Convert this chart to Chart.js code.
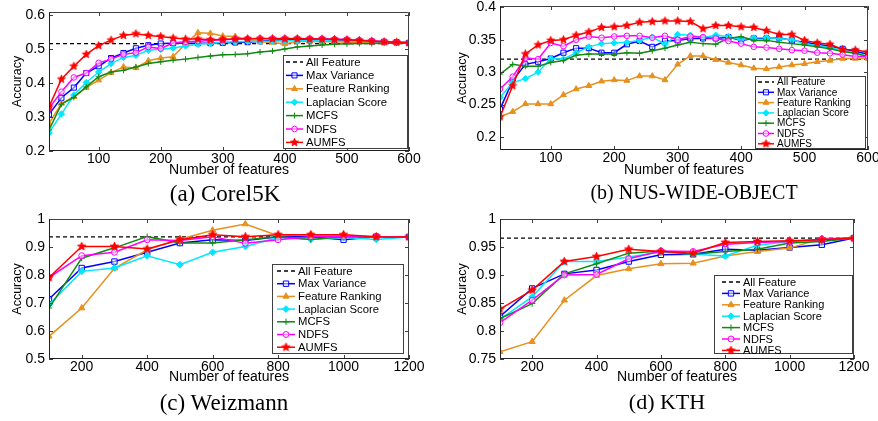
<!DOCTYPE html>
<html>
<head>
<meta charset="utf-8">
<script src="https://cdn.jsdelivr.net/npm/chart.js@4.4.1/dist/chart.umd.min.js"></script>
<style>
  html, body { margin: 0; padding: 0; background: #fff; }
  #page { position: relative; width: 878px; height: 421px; overflow: hidden; background: #fff; }
  #page canvas { position: absolute; }
  .cap { position: absolute; font-family: "Liberation Serif", "Times New Roman", serif; color: #000;
         white-space: nowrap; line-height: 1; transform: translateX(-50%); }
</style>
</head>
<body>
<div id="page">
  <canvas id="corel"></canvas>
  <canvas id="nus"></canvas>
  <canvas id="weiz"></canvas>
  <canvas id="kth"></canvas>
  <div class="cap" style="left:225px; top:182px; font-size:23px;">(a) Corel5K</div>
  <div class="cap" style="left:694px; top:182px; font-size:20px;">(b) NUS-WIDE-OBJECT</div>
  <div class="cap" style="left:224px; top:391px; font-size:23px;">(c) Weizmann</div>
  <div class="cap" style="left:667px; top:391px; font-size:22px;">(d) KTH</div>
</div>
<script>
// ---- data ----
const methods = ['All Feature', 'Max Variance', 'Feature Ranking', 'Laplacian Score', 'MCFS', 'NDFS', 'AUMFS'];

// (a) Corel5K
const corelFeatures = [20, 40, 60, 80, 100, 120, 140, 160, 180, 200, 220, 240, 260, 280, 300,
                       320, 340, 360, 380, 400, 420, 440, 460, 480, 500, 520, 540, 560, 580, 600];
const corelAll = 0.517;
const corelMaxVar = [0.308,0.357,0.387,0.430,0.450,0.474,0.489,0.503,0.512,0.517,0.518,0.518,0.518,0.518,0.519,
                     0.520,0.521,0.524,0.527,0.528,0.528,0.528,0.527,0.527,0.526,0.524,0.523,0.522,0.521,0.519];
const corelRank   = [0.281,0.340,0.360,0.387,0.409,0.431,0.448,0.445,0.466,0.474,0.478,0.517,0.549,0.547,0.539,
                     0.538,0.529,0.522,0.520,0.516,0.523,0.523,0.522,0.522,0.521,0.521,0.521,0.520,0.520,0.520];
const corelLap    = [0.254,0.309,0.365,0.402,0.433,0.458,0.476,0.482,0.497,0.500,0.504,0.510,0.515,0.518,0.521,
                     0.522,0.523,0.524,0.524,0.525,0.525,0.525,0.525,0.525,0.524,0.524,0.523,0.522,0.521,0.520];
const corelMcfs   = [0.262,0.338,0.358,0.389,0.419,0.433,0.438,0.448,0.458,0.463,0.468,0.471,0.476,0.480,0.484,
                     0.485,0.487,0.492,0.495,0.501,0.507,0.510,0.513,0.515,0.516,0.517,0.517,0.518,0.518,0.519];
const corelNdfs   = [0.325,0.375,0.417,0.430,0.460,0.471,0.485,0.490,0.507,0.502,0.519,0.522,0.524,0.526,0.528,
                     0.530,0.531,0.532,0.532,0.532,0.532,0.531,0.531,0.530,0.529,0.527,0.525,0.523,0.521,0.519];
const corelAumfs  = [0.330,0.412,0.450,0.485,0.511,0.527,0.541,0.546,0.541,0.538,0.533,0.530,0.530,0.528,0.529,
                     0.530,0.531,0.531,0.531,0.531,0.531,0.530,0.530,0.529,0.528,0.526,0.524,0.522,0.521,0.519];
const corelXTicks = [100, 200, 300, 400, 500, 600];
const corelYTicks = [0.2, 0.3, 0.4, 0.5, 0.6];

// (b) NUS-WIDE-OBJECT
const nusFeatures = corelFeatures;
const nusAll = 0.320;
const nusMaxVar = [0.243,0.287,0.312,0.316,0.321,0.330,0.337,0.337,0.330,0.330,0.343,0.348,0.339,0.348,0.349,
                   0.352,0.352,0.352,0.354,0.349,0.352,0.352,0.353,0.349,0.346,0.343,0.340,0.336,0.332,0.328];
const nusRank   = [0.231,0.239,0.251,0.251,0.251,0.265,0.274,0.279,0.286,0.288,0.287,0.294,0.294,0.288,0.312,
                   0.325,0.325,0.319,0.315,0.311,0.306,0.305,0.308,0.311,0.313,0.316,0.318,0.321,0.321,0.321];
const nusLap    = [0.261,0.284,0.290,0.300,0.321,0.320,0.330,0.339,0.344,0.345,0.346,0.349,0.354,0.343,0.358,
                   0.357,0.353,0.357,0.355,0.350,0.353,0.353,0.352,0.350,0.344,0.341,0.338,0.334,0.329,0.324];
const nusMcfs   = [0.297,0.312,0.309,0.309,0.315,0.318,0.326,0.328,0.328,0.328,0.330,0.329,0.333,0.337,0.342,
                   0.346,0.344,0.343,0.352,0.355,0.349,0.349,0.346,0.344,0.342,0.339,0.336,0.332,0.329,0.324];
const nusNdfs   = [0.274,0.293,0.322,0.320,0.345,0.340,0.350,0.355,0.353,0.355,0.356,0.356,0.353,0.356,0.350,
                   0.355,0.354,0.352,0.348,0.344,0.339,0.338,0.336,0.334,0.333,0.330,0.329,0.327,0.324,0.324];
const nusAumfs  = [0.231,0.279,0.328,0.342,0.349,0.350,0.357,0.362,0.369,0.370,0.372,0.377,0.378,0.379,0.379,
                   0.378,0.367,0.372,0.372,0.370,0.369,0.364,0.358,0.358,0.349,0.345,0.343,0.335,0.334,0.331];
const nusXTicks = [100, 200, 300, 400, 500, 600];
const nusYTicks = [0.2, 0.25, 0.3, 0.35, 0.4];

// (c) Weizmann
const weizFeatures = [100, 200, 300, 400, 500, 600, 700, 800, 900, 1000, 1100, 1200];
const weizAll = 0.936;
const weizMaxVar = [0.714,0.825,0.848,0.881,0.914,0.926,0.923,0.937,0.937,0.926,0.937,0.936];
const weizRank   = [0.581,0.682,0.824,0.890,0.928,0.960,0.982,0.940,0.944,0.943,0.936,0.936];
const weizLap    = [0.694,0.813,0.825,0.869,0.837,0.881,0.902,0.934,0.927,0.934,0.927,0.936];
const weizMcfs   = [0.682,0.860,0.897,0.937,0.914,0.914,0.926,0.937,0.927,0.937,0.937,0.936];
const weizNdfs   = [0.791,0.869,0.881,0.926,0.923,0.937,0.913,0.926,0.937,0.937,0.937,0.936];
const weizAumfs  = [0.791,0.902,0.902,0.893,0.926,0.944,0.937,0.944,0.944,0.944,0.937,0.936];
const weizXTicks = [200, 400, 600, 800, 1000, 1200];
const weizYTicks = [0.5, 0.6, 0.7, 0.8, 0.9, 1];

// (d) KTH
const kthFeatures = weizFeatures;
const kthAll = 0.966;
const kthMaxVar = [0.826,0.876,0.902,0.909,0.924,0.936,0.937,0.946,0.944,0.949,0.954,0.966];
const kthRank   = [0.763,0.781,0.855,0.899,0.911,0.920,0.921,0.934,0.942,0.948,0.965,0.966];
const kthLap    = [0.821,0.861,0.924,0.924,0.932,0.941,0.937,0.934,0.953,0.960,0.961,0.966];
const kthMcfs   = [0.822,0.849,0.902,0.920,0.939,0.943,0.937,0.942,0.946,0.957,0.960,0.966];
const kthNdfs   = [0.815,0.855,0.900,0.901,0.929,0.943,0.942,0.955,0.958,0.960,0.964,0.966];
const kthAumfs  = [0.839,0.873,0.924,0.933,0.946,0.942,0.939,0.958,0.960,0.961,0.963,0.966];
const kthXTicks = [200, 400, 600, 800, 1000, 1200];
const kthYTicks = [0.75, 0.8, 0.85, 0.9, 0.95, 1];

// ---- styling ----
const SANS = '"Liberation Sans", Arial, sans-serif';

function starImage(color, r) {
  const c = document.createElement('canvas');
  const s = Math.ceil(r * 2 + 2);
  c.width = s; c.height = s;
  const g = c.getContext('2d');
  g.fillStyle = color; g.strokeStyle = color; g.lineWidth = 0.8;
  g.beginPath();
  for (let i = 0; i < 10; i++) {
    const rr = i % 2 ? r * 0.45 : r;
    const a = -Math.PI / 2 + i * Math.PI / 5;
    g.lineTo(s / 2 + rr * Math.cos(a), s / 2 + rr * Math.sin(a));
  }
  g.closePath(); g.fill(); g.stroke();
  return c;
}

function seriesStyles(m) {
  // m: marker scale
  return [
    { color: '#000000', dash: [4, 3], pointStyle: false, radius: 0, fill: 'transparent' },
    { color: '#0000ff', pointStyle: 'rect', radius: 3.6 * m, fill: 'rgba(255,255,255,0.5)' },
    { color: '#e8901e', pointStyle: 'triangle', radius: 3.4 * m, fill: '#e8901e' },
    { color: '#00e8ff', pointStyle: 'rectRot', radius: 3.2 * m, fill: '#00e8ff' },
    { color: '#118a11', pointStyle: 'cross', radius: 3.0 * m, fill: '#118a11' },
    { color: '#ff00ff', pointStyle: 'circle', radius: 2.8 * m, fill: 'rgba(255,255,255,0.5)' },
    { color: '#ff0000', pointStyle: starImage('#ff0000', 4.2 * m), radius: 4 * m, fill: '#ff0000' }
  ];
}

// draw the MATLAB-like box with inward tick marks
const boxPlugin = {
  id: 'box',
  afterDatasetsDraw(chart) {
    const { ctx, chartArea: a, scales: { x, y } } = chart;
    ctx.save();
    ctx.strokeStyle = '#404040';
    ctx.lineWidth = 1;
    ctx.beginPath();
    ctx.rect(Math.round(a.left) + 0.5, Math.round(a.top) + 0.5, Math.round(a.width) - 1, Math.round(a.height) - 1);
    x.ticks.forEach(t => {
      const px = Math.round(x.getPixelForValue(t.value)) + 0.5;
      ctx.moveTo(px, a.bottom); ctx.lineTo(px, a.bottom - 4);
      ctx.moveTo(px, a.top); ctx.lineTo(px, a.top + 4);
    });
    y.ticks.forEach(t => {
      const py = Math.round(y.getPixelForValue(t.value)) + 0.5;
      ctx.moveTo(a.left, py); ctx.lineTo(a.left + 4, py);
      ctx.moveTo(a.right, py); ctx.lineTo(a.right - 4, py);
    });
    ctx.stroke();
    // left and bottom axes a little darker
    ctx.strokeStyle = '#202020';
    ctx.beginPath();
    ctx.moveTo(Math.round(a.left) + 0.5, a.top);
    ctx.lineTo(Math.round(a.left) + 0.5, Math.round(a.bottom) - 0.5);
    ctx.lineTo(a.right, Math.round(a.bottom) - 0.5);
    ctx.stroke();
    ctx.restore();
  }
};

// legend box drawn inside the plot area
const boxLegend = {
  id: 'boxLegend',
  afterDraw(chart, args, o) {
    const { ctx } = chart;
    ctx.save();
    ctx.fillStyle = '#fff';
    ctx.strokeStyle = '#404040';
    ctx.lineWidth = 1;
    ctx.fillRect(o.left, o.top, o.width, o.height);
    ctx.strokeRect(o.left + 0.5, o.top + 0.5, o.width - 1, o.height - 1);
    ctx.font = o.fontSize + 'px ' + SANS;
    ctx.textBaseline = 'middle';
    ctx.textAlign = 'left';
    chart.data.datasets.forEach((ds, i) => {
      const yy = o.firstRow + i * o.rowH;
      ctx.strokeStyle = ds.borderColor;
      ctx.lineWidth = ds.borderWidth;
      ctx.setLineDash(ds.borderDash || []);
      ctx.beginPath();
      ctx.moveTo(o.lineX, yy); ctx.lineTo(o.lineX + o.lineLen, yy);
      ctx.stroke();
      ctx.setLineDash([]);
      if (ds.pointStyle) {
        ctx.fillStyle = ds.pointBackgroundColor;
        ctx.strokeStyle = ds.borderColor;
        ctx.lineWidth = 1;
        Chart.helpers.drawPoint(ctx, { pointStyle: ds.pointStyle, radius: ds.pointRadius, rotation: 0, borderWidth: 1 },
          o.lineX + o.lineLen / 2, yy);
      }
      ctx.fillStyle = '#000';
      ctx.fillText(ds.label, o.textX, yy + 0.5);
    });
    ctx.restore();
  }
};

// margins of each canvas around its plot area
const ML = 60, MT = 20, MR = 40, MB = 40;

function makePanel(p) {
  const [L, T, R, B] = p.area;
  const ox = L - ML, oy = T - MT;
  const cv = document.getElementById(p.id);
  cv.width = R - L + ML + MR;
  cv.height = B - T + MT + MB;
  cv.style.left = ox + 'px';
  cv.style.top = oy + 'px';

  const st = seriesStyles(p.markerScale);
  const series = [null].concat(p.series);
  const datasets = methods.map((name, i) => {
    const s = st[i];
    const data = i === 0
      ? [{ x: p.xMin, y: p.all }, { x: p.xMax, y: p.all }]
      : p.x.map((xv, k) => ({ x: xv, y: series[i][k] }));
    return {
      label: name,
      data,
      borderColor: s.color,
      borderWidth: i === 0 ? 1.3 : p.lineWidth,
      borderDash: s.dash,
      pointStyle: s.pointStyle,
      pointRadius: s.radius,
      pointBorderWidth: 1,
      pointBackgroundColor: s.fill,
      pointBorderColor: s.color,
      order: methods.length - i,
      tension: 0
    };
  });

  const lg = p.legend;
  const yLH = p.yTitleSize * 1.2, xLH = p.xTitleSize * 1.2;

  new Chart(cv, {
    type: 'line',
    data: { datasets },
    options: {
      responsive: false,
      animation: false,
      events: [],
      layout: { padding: { left: 0, top: MT, right: MR, bottom: 0 } },
      plugins: {
        legend: { display: false },
        tooltip: { enabled: false },
        boxLegend: {
          left: lg.box[0] - ox, top: lg.box[1] - oy,
          width: lg.box[2] - lg.box[0], height: lg.box[3] - lg.box[1],
          firstRow: lg.firstRow - oy, rowH: lg.rowH,
          lineX: lg.lineX - ox, lineLen: lg.lineLen, textX: lg.textX - ox,
          fontSize: lg.fontSize
        }
      },
      scales: {
        x: {
          type: 'linear',
          min: p.xMin, max: p.xMax,
          grid: { display: false, drawTicks: false, tickLength: 0 },
          border: { display: false },
          afterBuildTicks: s => { s.ticks = p.xTicks.map(v => ({ value: v })); },
          afterFit: s => { s.height = MB; },
          ticks: {
            padding: p.xTickPad,
            color: '#000',
            maxRotation: 0,
            font: { family: SANS, size: p.tickSize },
            callback: v => String(v)
          },
          title: {
            display: true,
            text: 'Number of features',
            color: '#000',
            font: { family: SANS, size: p.xTitleSize },
            padding: { top: 0, bottom: B + MB - xLH / 2 - p.xTitleY }
          }
        },
        y: {
          type: 'linear',
          min: p.yMin, max: p.yMax,
          grid: { display: false, drawTicks: false, tickLength: 0 },
          border: { display: false },
          afterBuildTicks: s => { s.ticks = p.yTicks.map(v => ({ value: v })); },
          afterFit: s => { s.width = ML; },
          ticks: {
            padding: 4,
            color: '#000',
            font: { family: SANS, size: p.tickSize },
            callback: v => String(v)
          },
          title: {
            display: true,
            text: 'Accuracy',
            color: '#000',
            font: { family: SANS, size: p.yTitleSize },
            padding: { top: p.yTitleX - ox - yLH / 2, bottom: 0 }
          }
        }
      }
    },
    plugins: [boxPlugin, boxLegend]
  });
}

makePanel({
  id: 'corel', area: [49, 12, 409, 151],
  x: corelFeatures, xMin: 20, xMax: 600, yMin: 0.2, yMax: 0.61,
  xTicks: corelXTicks, yTicks: corelYTicks, all: corelAll,
  series: [corelMaxVar, corelRank, corelLap, corelMcfs, corelNdfs, corelAumfs],
  markerScale: 1.0, lineWidth: 1.5, tickSize: 14, xTitleSize: 14, yTitleSize: 12.5,
  xTitleY: 170.5, yTitleX: 18, xTickPad: 0,
  legend: { box: [283, 55, 408, 149], firstRow: 62, rowH: 13.4, lineX: 286, lineLen: 17, textX: 306, fontSize: 11.3 }
});

makePanel({
  id: 'nus', area: [500, 6, 868, 150],
  x: nusFeatures, xMin: 20, xMax: 600, yMin: 0.18, yMax: 0.402,
  xTicks: nusXTicks, yTicks: nusYTicks, all: nusAll,
  series: [nusMaxVar, nusRank, nusLap, nusMcfs, nusNdfs, nusAumfs],
  markerScale: 1.0, lineWidth: 1.5, tickSize: 14, xTitleSize: 14, yTitleSize: 12.5,
  xTitleY: 170.5, yTitleX: 462.5, xTickPad: 0,
  legend: { box: [755, 76, 866, 149], firstRow: 82, rowH: 10.3, lineX: 758, lineLen: 16, textX: 777, fontSize: 10 }
});

makePanel({
  id: 'weiz', area: [49, 219, 409, 359],
  x: weizFeatures, xMin: 100, xMax: 1200, yMin: 0.5, yMax: 1,
  xTicks: weizXTicks, yTicks: weizYTicks, all: weizAll,
  series: [weizMaxVar, weizRank, weizLap, weizMcfs, weizNdfs, weizAumfs],
  markerScale: 1.05, lineWidth: 1.5, tickSize: 14, xTitleSize: 14, yTitleSize: 12.5,
  xTitleY: 377, yTitleX: 18, xTickPad: 0,
  legend: { box: [272, 264, 404, 354], firstRow: 271, rowH: 12.7, lineX: 277, lineLen: 18, textX: 298, fontSize: 11.3 }
});

makePanel({
  id: 'kth', area: [500, 219, 854, 359],
  x: kthFeatures, xMin: 100, xMax: 1200, yMin: 0.75, yMax: 1,
  xTicks: kthXTicks, yTicks: kthYTicks, all: kthAll,
  series: [kthMaxVar, kthRank, kthLap, kthMcfs, kthNdfs, kthAumfs],
  markerScale: 1.05, lineWidth: 1.5, tickSize: 14, xTitleSize: 14, yTitleSize: 12.5,
  xTitleY: 377, yTitleX: 462.5, xTickPad: 0,
  legend: { box: [714, 275, 853, 354], firstRow: 282, rowH: 11.4, lineX: 722, lineLen: 18, textX: 743, fontSize: 11 }
});
</script>
</body>
</html>
